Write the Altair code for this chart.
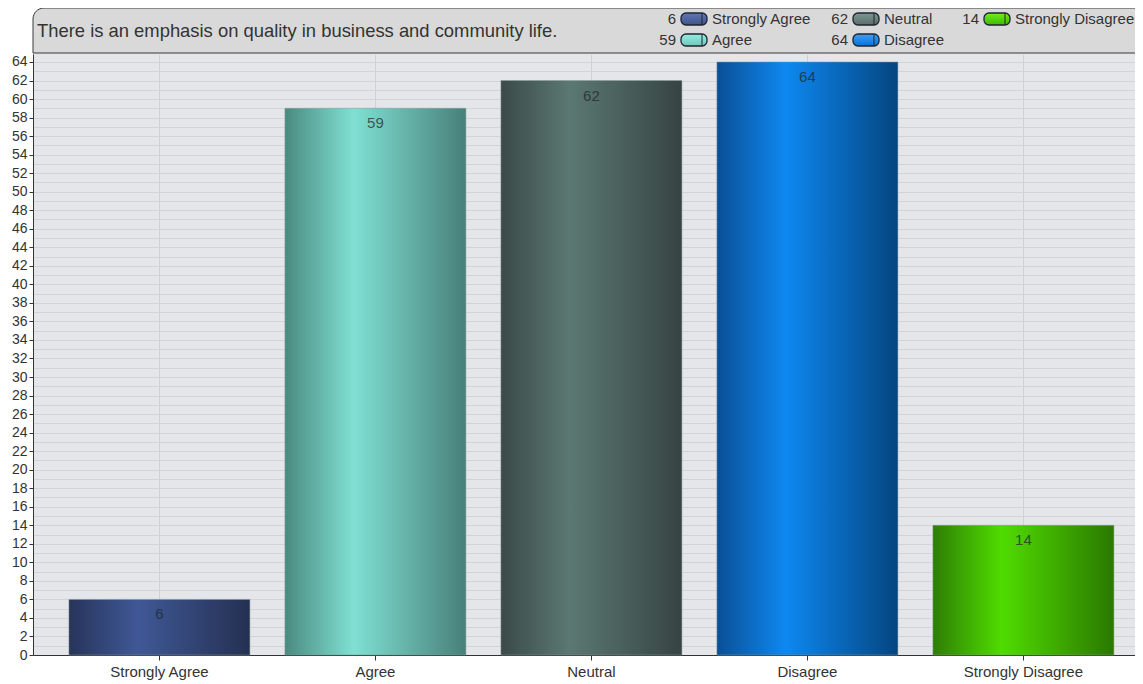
import altair as alt
import pandas as pd

# ---- data ----
categories = ["Strongly Agree", "Agree", "Neutral", "Disagree", "Strongly Disagree"]
counts = [6, 59, 62, 64, 14]
title_text = "There is an emphasis on quality in business and community life."
y_ticks = list(range(0, 65))

# gradient colours (edge, highlight, edge)
grad_colors = {
    "Strongly Agree": ("#27345a", "#3f5896", "#253052"),
    "Agree": ("#4a8a80", "#80e0d3", "#47807a"),
    "Neutral": ("#3a4a48", "#5b7872", "#364442"),
    "Disagree": ("#0a4f95", "#0e88f0", "#044580"),
    "Strongly Disagree": ("#2e7d06", "#50dc00", "#2a7800"),
}
swatch_colors = {
    "Strongly Agree": ("#3f5385", "#5f78b8"),
    "Agree": ("#6cc9bc", "#98ece0"),
    "Neutral": ("#5a6e6a", "#7e9892"),
    "Disagree": ("#0c70d0", "#3aa0ff"),
    "Strongly Disagree": ("#40b800", "#70f020"),
}

W, H = 1102, 601
YMAX = 64.86


def hgrad(c):
    return {"gradient": "linear", "x1": 0, "x2": 1, "y1": 0, "y2": 0,
            "stops": [{"offset": 0, "color": c[0]},
                      {"offset": 0.38, "color": c[1]},
                      {"offset": 1, "color": c[2]}]}


def vgrad(c):
    return {"gradient": "linear", "x1": 0, "x2": 0, "y1": 0, "y2": 1,
            "stops": [{"offset": 0, "color": c[1]},
                      {"offset": 1, "color": c[0]}]}


def fill_cond(fn, colors):
    conds = [{"test": f"datum.cat === '{c}'", "value": fn(colors[c])} for c in categories[:-1]]
    return {"condition": conds, "value": fn(colors[categories[-1]])}


df = pd.DataFrame({"cat": categories, "count": counts})

# legend layout (column-major, 2 rows)
col_swatch_x = [648, 820, 951]
row_y = [-35, -14]
leg = df.copy()
leg["col"] = [i // 2 for i in range(len(categories))]
leg["row"] = [i % 2 for i in range(len(categories))]
leg["sx"] = [col_swatch_x[c] for c in leg["col"]]
leg["sx2"] = leg["sx"] + 26
leg["sy"] = [row_y[r] for r in leg["row"]]
leg["sy1"] = leg["sy"] - 6
leg["sy2"] = leg["sy"] + 6
leg["nx"] = leg["sx"] - 5
leg["lx"] = leg["sx2"] + 5

FONT = "Liberation Sans"

xenc = alt.X("cat:N", sort=categories,
             scale=alt.Scale(paddingInner=0.162, paddingOuter=0.132, align=0.63),
             axis=alt.Axis(title=None, labelAngle=0, grid=True, gridColor="#d0d1d4",
                           tickSize=5, tickColor="#333", domainColor="#333",
                           labelFontSize=15, labelColor="#333", labelPadding=4,
                           labelFont=FONT))
yenc = alt.Y("count:Q", scale=alt.Scale(domain=[0, YMAX], nice=False, zero=True),
             axis=alt.Axis(title=None, values=y_ticks, grid=True, gridColor="#d2d4d8",
                           labelExpr="datum.value % 2 == 0 ? datum.label : ''",
                           labelOverlap=False,
                           tickOpacity={"condition": {"test": "datum.value % 2 == 1", "value": 0}, "value": 1},
                           tickSize=4, tickColor="#333", domainColor="#333",
                           labelFontSize=14, labelColor="#333", labelPadding=2,
                           labelFont=FONT))

base = alt.Chart(df)

bars = base.mark_bar(stroke="#8a9a9a", strokeOpacity=0.5, strokeWidth=1).encode(
    x=xenc, y=yenc, fill=fill_cond(hgrad, grad_colors)
)

vals = base.mark_text(fontSize=15, font=FONT, color="#1c2626", opacity=0.7,
                      baseline="middle", dy=15).encode(
    x=xenc, y=yenc, text="count:Q"
)

header = alt.Chart(alt.Data(values=[{}])).mark_rect(
    fill="#d9d9d9", stroke="#3a3a3a", strokeWidth=1,
    cornerRadiusTopLeft=11, cornerRadiusTopRight=8
).encode(x=alt.value(0), x2=alt.value(W + 7), y=alt.value(-46), y2=alt.value(-1))

header_line = alt.Chart(alt.Data(values=[{}])).mark_rule(color="#8a8a8a", strokeWidth=1.5).encode(
    x=alt.value(1), x2=alt.value(W + 7), y=alt.value(-1)
)

title = alt.Chart(alt.Data(values=[{}])).mark_text(
    text=title_text, align="left", baseline="middle", fontSize=18.4, font=FONT, color="#333"
).encode(x=alt.value(4), y=alt.value(-23))

legsrc = alt.Chart(leg)
sw = legsrc.mark_rect(cornerRadius=5, stroke="#1e2430", strokeWidth=1.3).encode(
    x=alt.X("sx:Q", scale=None, axis=None), x2="sx2:Q",
    y=alt.Y("sy1:Q", scale=None, axis=None), y2="sy2:Q",
    fill=fill_cond(vgrad, swatch_colors)
)
swcap = legsrc.mark_rule(color="#1e2430", strokeWidth=1).encode(
    x=alt.X("capx:Q", scale=None, axis=None),
    y=alt.Y("sy1:Q", scale=None, axis=None), y2="sy2:Q"
).transform_calculate(capx="datum.sx2 - 5")
num = legsrc.mark_text(align="right", baseline="middle", fontSize=15, font=FONT, color="#333").encode(
    x=alt.X("nx:Q", scale=None, axis=None), y=alt.Y("sy:Q", scale=None, axis=None), text="count:Q"
)
lab = legsrc.mark_text(align="left", baseline="middle", fontSize=15, font=FONT, color="#333").encode(
    x=alt.X("lx:Q", scale=None, axis=None), y=alt.Y("sy:Q", scale=None, axis=None), text="cat:N"
)

chart = alt.layer(bars, vals, header, header_line, title, sw, swcap, num, lab).properties(
    width=W, height=H,
    padding={"left": 25, "top": 46, "right": 0, "bottom": 28},
    autosize=alt.AutoSizeParams(type="none"),
    background="white",
).configure_view(fill="#e4e6e9", stroke=None)

chart.save("out.html", embed_options={"renderer": "svg", "actions": False})
